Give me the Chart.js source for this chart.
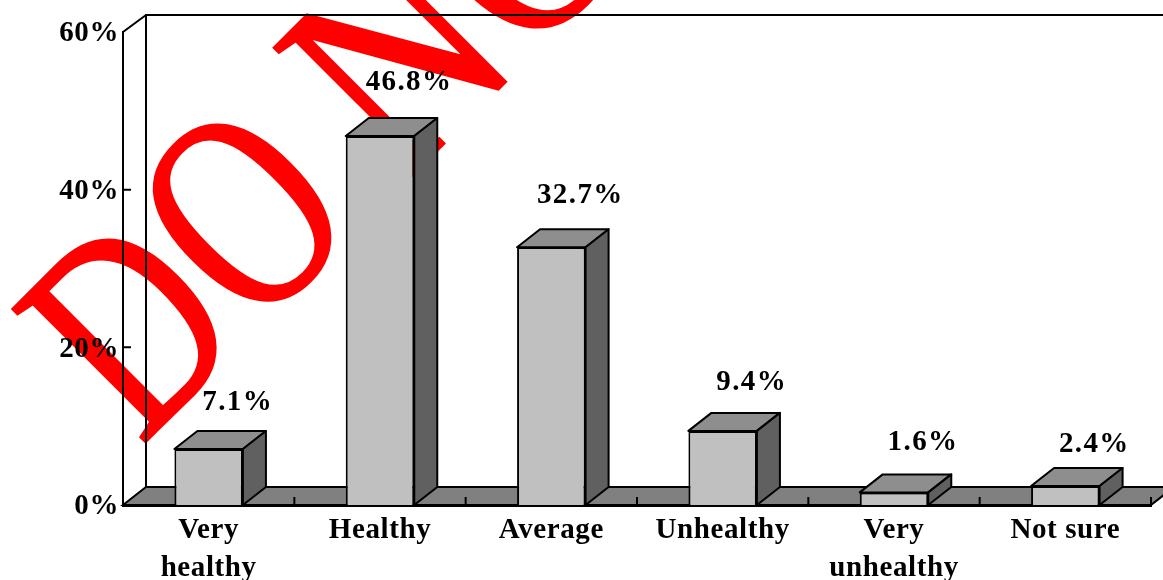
<!DOCTYPE html>
<html>
<head>
<meta charset="utf-8">
<style>html,body{margin:0;padding:0;background:#fff}canvas{display:block}</style>
<script src="https://cdn.jsdelivr.net/npm/chart.js@4"></script>
</head>
<body>
<canvas id="c" width="1163" height="580"></canvas>
<script>
const categories = [['Very','healthy'],'Healthy','Average','Unhealthy',['Very','unhealthy'],'Not sure'];
const values = [7.1, 46.8, 32.7, 9.4, 1.6, 2.4];
const valueLabels = ['7.1%','46.8%','32.7%','9.4%','1.6%','2.4%'];
const yTicks = [0, 20, 40, 60];
const watermarkParts = ['DO', 'NOT COPY'];
const labelLift = [47, 54, 52, 48, 50, 42];

const FONT = '"Liberation Serif"';
const DX = 23, DY = 18;
const poly = (ctx, pts, fill) => {
  ctx.beginPath();
  pts.forEach((p, i) => i ? ctx.lineTo(p[0], p[1]) : ctx.moveTo(p[0], p[1]));
  ctx.closePath();
  if (fill) { ctx.fillStyle = fill; ctx.fill(); }
  ctx.stroke();
};
const plugin3d = {
  id: 'plugin3d',
  beforeDraw(chart) {
    const ctx = chart.ctx;
    const stamp = (text, along, widthEm, spacing) => {
      ctx.save();
      ctx.translate(141, 447);
      ctx.rotate(-45 * Math.PI / 180);
      ctx.translate(along, 0);
      ctx.scale(widthEm / 288, 1);
      ctx.fillStyle = '#ff0000';
      ctx.strokeStyle = '#ff0000';
      ctx.lineWidth = 2;
      ctx.lineJoin = 'miter';
      ctx.font = '288px ' + FONT;
      ctx.letterSpacing = spacing;
      ctx.textAlign = 'left';
      ctx.textBaseline = 'alphabetic';
      ctx.fillText(text, 0, 0);
      ctx.strokeText(text, 0, 0);
      ctx.restore();
    };
    stamp(watermarkParts[0], 0, 215, '6px');
    stamp(watermarkParts[1], 369, 240, '0px');
    ctx.letterSpacing = '0.6px';
  },
  beforeDatasetsDraw(chart) {
    const ctx = chart.ctx, a = chart.chartArea, xs = chart.scales.x, ys = chart.scales.y;
    ctx.save();
    ctx.strokeStyle = '#000';
    ctx.lineWidth = 2;
    poly(ctx, [[a.left, a.bottom], [a.left + DX, a.bottom - DY], [a.right + DX, a.bottom - DY], [a.right, a.bottom]], '#808080');
    ctx.beginPath();
    ctx.moveTo(a.left + DX, a.bottom - DY);
    ctx.lineTo(a.left + DX, a.top - 17);
    ctx.lineTo(chart.width, a.top - 17);
    ctx.moveTo(a.left, a.top);
    ctx.lineTo(a.left + DX, a.top - 17);
    ctx.stroke();
    ctx.beginPath();
    yTicks.slice(1, 3).forEach(v => {
      const y = ys.getPixelForValue(v);
      ctx.moveTo(a.left, y);
      ctx.lineTo(a.left + 8, y);
    });
    const step = xs.width / categories.length;
    for (let i = 1; i <= categories.length; i++) {
      const x = xs.getPixelForValue(i - 1) + step / 2;
      ctx.moveTo(x, a.bottom);
      ctx.lineTo(x, a.bottom - 8);
    }
    ctx.stroke();
    ctx.restore();
  },
  afterDatasetsDraw(chart) {
    const ctx = chart.ctx;
    ctx.save();
    ctx.strokeStyle = '#000';
    ctx.lineWidth = 2;
    ctx.lineJoin = 'round';
    chart.getDatasetMeta(0).data.forEach((bar, i) => {
      const l = bar.x - bar.width / 2, r = bar.x + bar.width / 2, t = bar.y, b = bar.base;
      poly(ctx, [[l, t], [l + DX, t - DY], [r + DX, t - DY], [r, t]], '#8e8e8e');
      poly(ctx, [[r, t], [r + DX, t - DY], [r + DX, b - DY], [r, b]], '#606060');
      ctx.fillStyle = '#000';
      ctx.font = 'bold 29px ' + FONT;
      ctx.letterSpacing = '1.4px';
      ctx.textAlign = 'center';
      ctx.textBaseline = 'middle';
      ctx.fillText(valueLabels[i], bar.x + 29, bar.y - labelLift[i]);
    });
    ctx.restore();
  }
};
new Chart(document.getElementById('c'), {
  type: 'bar',
  data: {
    labels: categories,
    datasets: [{
      data: values,
      backgroundColor: '#c0c0c0',
      borderColor: '#000',
      borderWidth: 2,
      barPercentage: 0.4,
      categoryPercentage: 1
    }]
  },
  plugins: [plugin3d],
  options: {
    responsive: false,
    animation: false,
    devicePixelRatio: 1,
    layout: { autoPadding: false, padding: { top: 32, right: 12, left: 0, bottom: 0 } },
    plugins: { legend: { display: false }, tooltip: { enabled: false } },
    scales: {
      x: {
        grid: { display: false, drawTicks: false },
        border: { display: true, color: '#000', width: 3 },
        afterFit(s) { s.height = 75; },
        ticks: {
          color: '#000', padding: 7, maxRotation: 0, autoSkip: false,
          font: { family: FONT, size: 29, weight: 'bold', lineHeight: 1.31 }
        }
      },
      y: {
        min: 0, max: 60,
        grid: { display: false, drawTicks: false },
        border: { display: true, color: '#000', width: 2 },
        afterFit(s) { s.width = 123; },
        afterBuildTicks(s) { s.ticks = yTicks.map(v => ({ value: v })); },
        ticks: {
          color: '#000', padding: 4, labelOffset: 2,
          font: { family: FONT, size: 29, weight: 'bold' },
          callback: v => v + '%'
        }
      }
    }
  }
});
</script>
</body>
</html>
